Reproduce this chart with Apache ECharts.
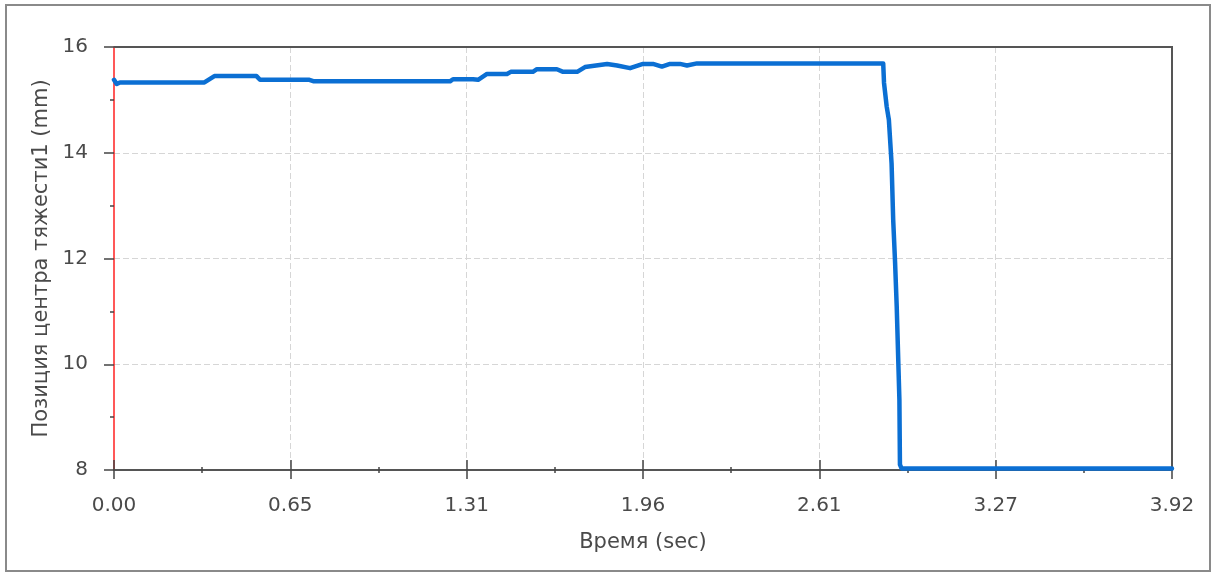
<!DOCTYPE html>
<html>
<head>
<meta charset="utf-8">
<script src="https://cdn.jsdelivr.net/npm/echarts@6/dist/echarts.min.js"></script>
<style>
  html, body { margin: 0; padding: 0; background: #fff; }
  #chart { width: 1211px; height: 574px; }
</style>
</head>
<body>
<div id="chart"></div>
<script>
// Time samples (sec) and centre-of-gravity position (mm)
const timeSec = [
  0.000, 0.010, 0.022, 0.335, 0.372, 0.528, 0.541, 0.724, 0.741, 1.245,
  1.256, 1.330, 1.349, 1.382, 1.456, 1.470, 1.552, 1.567, 1.641, 1.664,
  1.716, 1.745, 1.827, 1.864, 1.912, 1.960, 1.997, 2.030, 2.060, 2.097,
  2.123, 2.160, 2.850, 2.853, 2.863, 2.871, 2.881, 2.887, 2.894, 2.900,
  2.910, 2.912, 2.918, 3.920
];
const positionMm = [
  15.38, 15.30, 15.33, 15.33, 15.45, 15.45, 15.38, 15.38, 15.35, 15.35,
  15.39, 15.39, 15.38, 15.49, 15.49, 15.53, 15.53, 15.58, 15.58, 15.53,
  15.53, 15.62, 15.68, 15.65, 15.60, 15.68, 15.68, 15.63, 15.68, 15.68,
  15.65, 15.69, 15.69, 15.32, 14.87, 14.62, 13.80, 12.73, 11.92, 11.10,
  9.33, 8.10, 8.03, 8.03
];
const xMin = 0, xMax = 3.92, xStep = 3.92 / 6;
const yMin = 8, yMax = 16, yStep = 2;

const textColor = '#4a4a4a';
const fontFamily = 'DejaVu Sans';

const chart = echarts.init(document.getElementById('chart'), null, { renderer: 'canvas' });

const xBase = {
  type: 'value', min: xMin, max: xMax, interval: xStep, gridIndex: 0, position: 'bottom'
};
const gridLine = { show: true, showMinLine: false, showMaxLine: false,
  lineStyle: { color: '#d6d6d6', width: 1, type: [6, 3] } };

chart.setOption({
  animation: false,
  backgroundColor: '#fff',
  grid: { left: 114, right: 39, top: 47, bottom: 104 },
  xAxis: [
    Object.assign({}, xBase, {
      name: 'Время (sec)',
      nameLocation: 'middle',
      nameGap: 62,
      nameTextStyle: { color: textColor, fontSize: 21, fontFamily },
      axisLine: { show: true, lineStyle: { color: '#555', width: 2 } },
      axisTick: { show: true, inside: false, length: 9, lineStyle: { color: '#444', width: 1.5 } },
      minorTick: { show: true, splitNumber: 2, length: 3, lineStyle: { color: '#444', width: 1.5 } },
      axisLabel: {
        color: textColor, fontSize: 20, fontFamily, margin: 26,
        formatter: v => v.toFixed(2)
      },
      splitLine: gridLine
    }),
    Object.assign({}, xBase, {
      axisLine: { show: false },
      axisTick: { show: true, inside: true, length: 10, lineStyle: { color: '#444', width: 1.5 } },
      minorTick: { show: true, splitNumber: 2, length: 3, lineStyle: { color: '#444', width: 1.5 } },
      axisLabel: { show: false },
      splitLine: { show: false }
    })
  ],
  yAxis: {
    type: 'value', min: yMin, max: yMax, interval: yStep,
    name: 'Позиция центра тяжести1 (mm)',
    nameLocation: 'middle',
    nameGap: 56,
    nameTextStyle: { color: textColor, fontSize: 21, fontFamily },
    axisLine: { show: true, lineStyle: { color: '#ff2020', width: 1.5 } },
    axisTick: { show: true, inside: false, length: 10, lineStyle: { color: '#444', width: 1.5 } },
    minorTick: { show: true, splitNumber: 2, length: 4, lineStyle: { color: '#444', width: 1.5 } },
    axisLabel: { color: textColor, fontSize: 20, fontFamily, margin: 26 },
    splitLine: gridLine
  },
  series: [{
    type: 'line',
    xAxisIndex: 0,
    data: timeSec.map((t, i) => [t, positionMm[i]]),
    showSymbol: false,
    symbol: 'none',
    lineStyle: { color: '#0b6fd3', width: 4.5, cap: 'round', join: 'round' },
    z: 5
  }]
});

// Plot frame (top and right edges) and the outer panel border
const topLeft = chart.convertToPixel({ xAxisIndex: 0, yAxisIndex: 0 }, [xMin, yMax]);
const bottomRight = chart.convertToPixel({ xAxisIndex: 0, yAxisIndex: 0 }, [xMax, yMin]);
chart.setOption({
  graphic: [
    {
      type: 'rect',
      shape: { x: 6, y: 5, width: 1204, height: 566 },
      style: { fill: 'none', stroke: '#8a8a8a', lineWidth: 2 },
      z: -10, silent: true
    },
    {
      type: 'polyline',
      shape: { points: [[topLeft[0], topLeft[1]], [bottomRight[0], topLeft[1]], [bottomRight[0], bottomRight[1]]] },
      style: { fill: 'none', stroke: '#555', lineWidth: 2 },
      z: 1, silent: true
    }
  ]
});
</script>
</body>
</html>
